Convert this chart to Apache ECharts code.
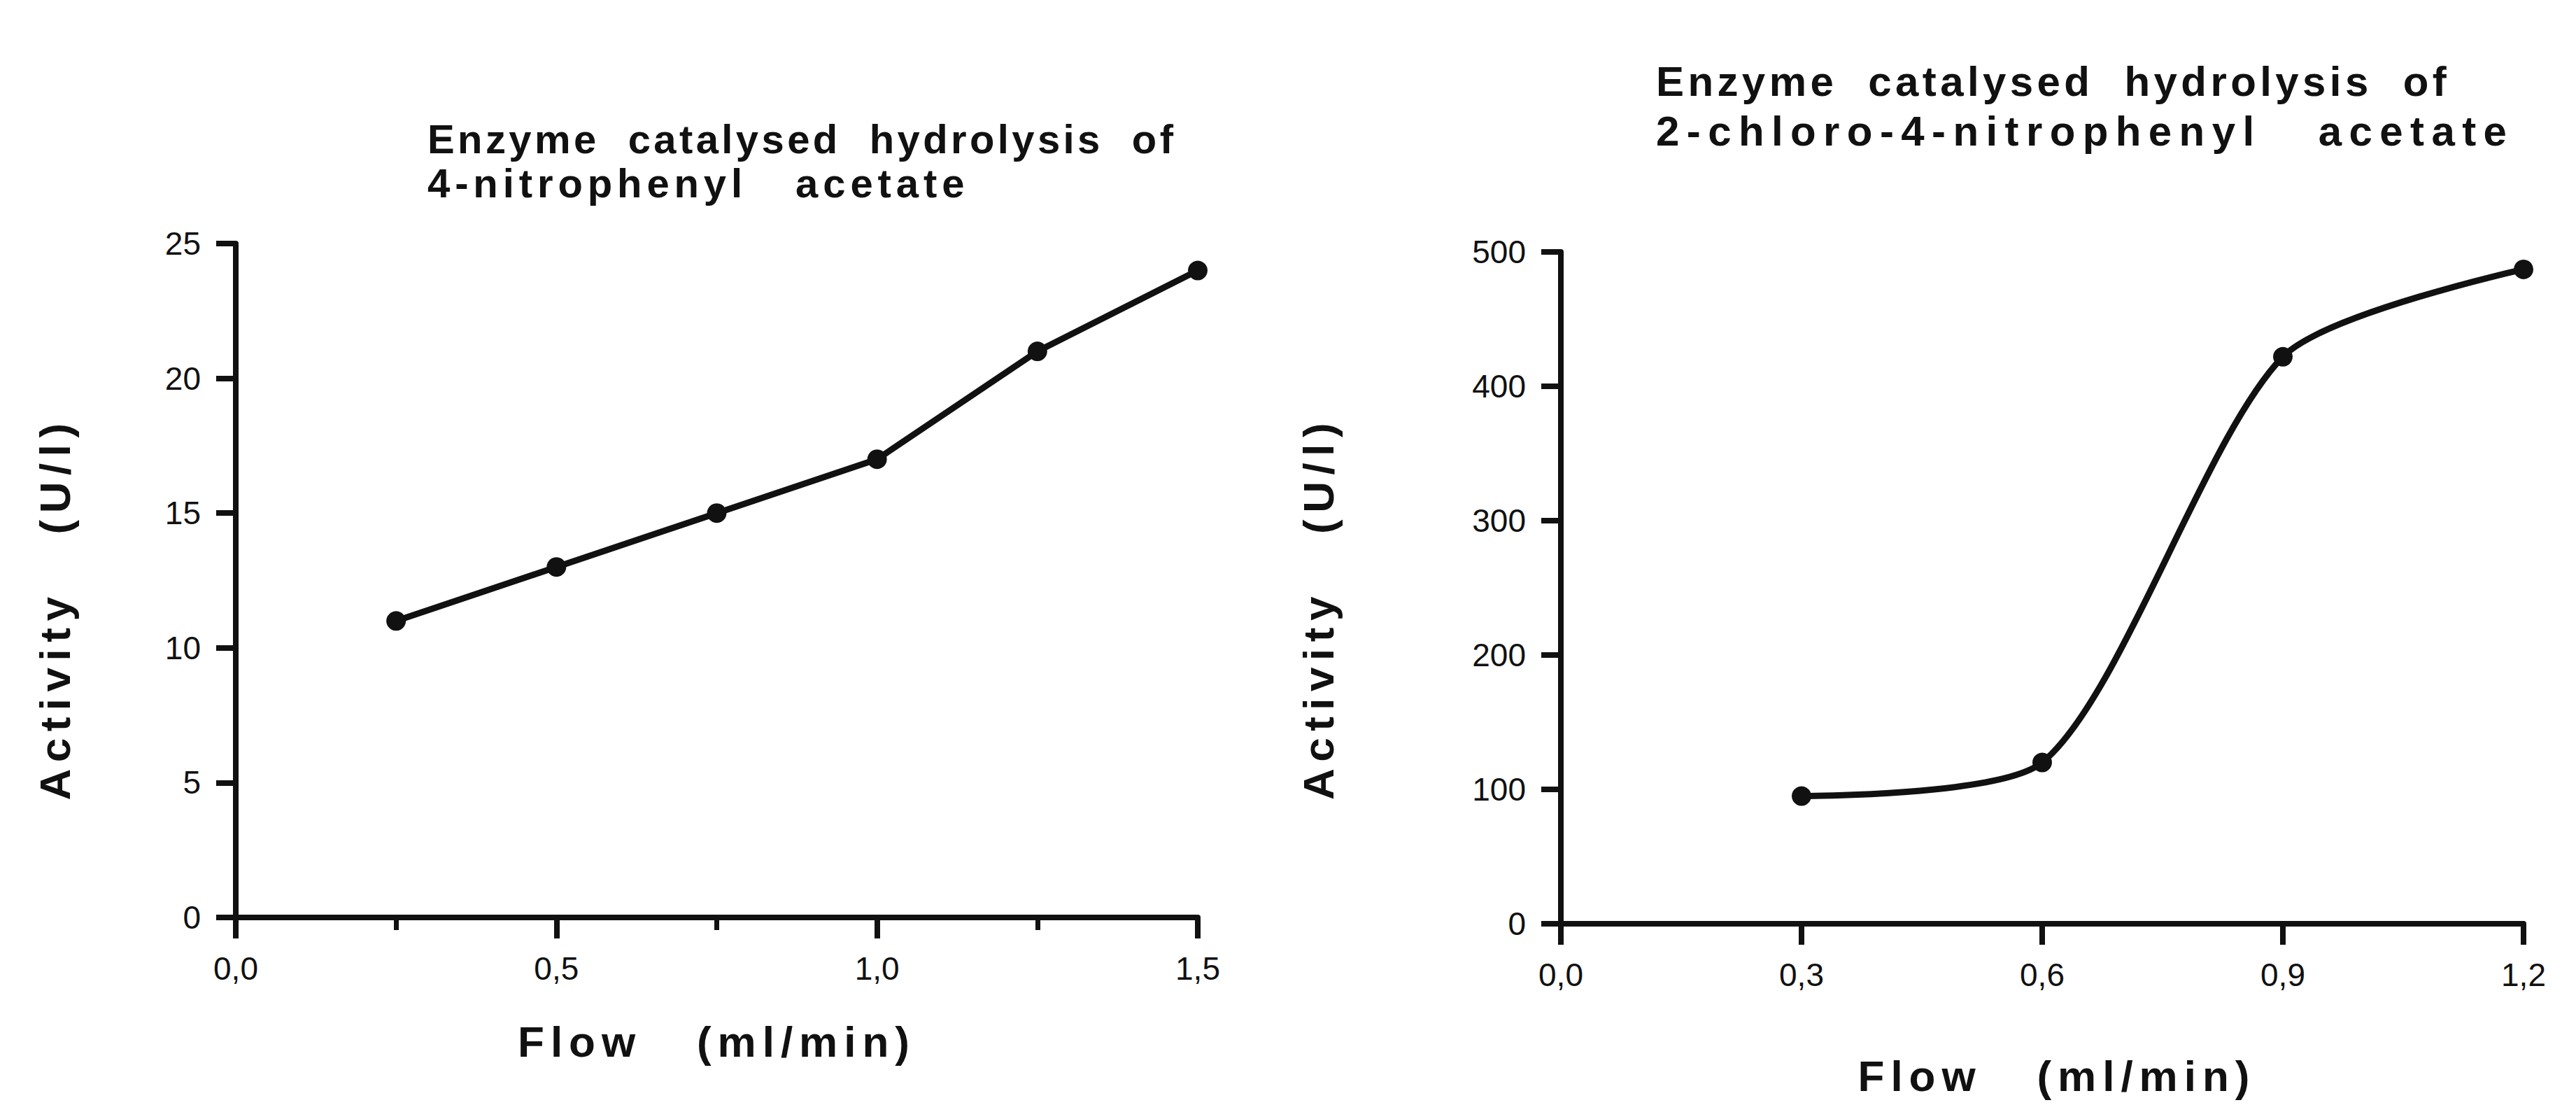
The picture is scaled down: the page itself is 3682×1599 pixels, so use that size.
<!DOCTYPE html>
<html>
<head>
<meta charset="utf-8">
<script src="https://cdn.jsdelivr.net/npm/echarts@6/dist/echarts.min.js"></script>
<style>
html,body{margin:0;padding:0;background:#fff;}
#main{width:3682px;height:1599px;}
</style>
</head>
<body>
<div id="main"></div>
<script>
// ---- data ----
const leftTitle = "Enzyme  catalysed  hydrolysis  of\n4-nitrophenyl   acetate";
const rightTitle = "Enzyme  catalysed  hydrolysis  of\n2-chloro-4-nitrophenyl   acetate";
const xAxisTitle = "Flow   (ml/min)";
const yAxisTitle = "Activity   (U/l)";
const leftFlow = [0.25, 0.5, 0.75, 1.0, 1.25, 1.5];
const leftActivity = [11, 13, 15, 17, 21, 24];
const rightFlow = [0.3, 0.6, 0.9, 1.2];
const rightActivity = [95, 120, 422, 487];
const leftXRange = [0, 1.5, 0.5];
const leftYRange = [0, 25, 5];
const rightXRange = [0, 1.2, 0.3];
const rightYRange = [0, 500, 100];

const FONT = "'Liberation Sans', Arial, sans-serif";
const INK = '#111';
const fmtComma = v => v.toFixed(1).replace('.', ',');

function pairs(xs, ys) { return xs.map((x, i) => [x, ys[i]]); }

function xAxis(gridIndex, range, minor, nameGap, padLeft) {
  return {
    type: 'value', gridIndex, min: range[0], max: range[1], interval: range[2],
    name: xAxisTitle, nameLocation: 'middle', nameGap,
    nameTextStyle: { fontFamily: FONT, fontWeight: 'bold', fontSize: 62, color: INK, padding: [0, 0, 0, padLeft] },
    axisLine: { show: true, onZero: false, lineStyle: { color: INK, width: 8 } },
    axisTick: { show: true, inside: false, length: 30, lineStyle: { color: INK, width: 8 } },
    minorTick: { show: minor, splitNumber: 2, length: 18, lineStyle: { color: INK, width: 7 } },
    splitLine: { show: false },
    axisLabel: { margin: 50, fontFamily: FONT, fontSize: 46, color: INK, formatter: fmtComma }
  };
}
function yAxis(gridIndex, range, nameGap, padRight) {
  return {
    type: 'value', gridIndex, min: range[0], max: range[1], interval: range[2],
    name: yAxisTitle, nameLocation: 'middle', nameGap, nameRotate: 90,
    nameTextStyle: { fontFamily: FONT, fontWeight: 'bold', fontSize: 62, color: INK, padding: [0, padRight, 0, 0] },
    axisLine: { show: true, onZero: false, lineStyle: { color: INK, width: 8 } },
    axisTick: { show: true, inside: false, length: 28, lineStyle: { color: INK, width: 8 } },
    splitLine: { show: false },
    axisLabel: { margin: 50, fontFamily: FONT, fontSize: 46, color: INK }
  };
}

const chart = echarts.init(document.getElementById('main'), null, { renderer: 'svg' });
chart.setOption({
  animation: false,
  backgroundColor: '#fff',
  title: [
    { text: leftTitle, left: 606, top: 162,
      textStyle: { fontFamily: FONT, fontWeight: 'bold', fontSize: 58, lineHeight: 63, color: INK } },
    { text: rightTitle, left: 2362, top: 76,
      textStyle: { fontFamily: FONT, fontWeight: 'bold', fontSize: 60, lineHeight: 71, color: INK } }
  ],
  grid: [
    { left: 337, right: 3682 - 1712, top: 348, bottom: 1599 - 1311, containLabel: false },
    { left: 2231, right: 3682 - 3607, top: 360, bottom: 1599 - 1320, containLabel: false }
  ],
  xAxis: [
    xAxis(0, leftXRange, true, 146, 0),
    xAxis(1, rightXRange, false, 186, 42)
  ],
  yAxis: [
    yAxis(0, leftYRange, 228, 80),
    yAxis(1, rightYRange, 316, 58)
  ],
  series: [
    { type: 'line', xAxisIndex: 0, yAxisIndex: 0, data: pairs(leftFlow, leftActivity),
      symbol: 'circle', symbolSize: 28, itemStyle: { color: INK },
      lineStyle: { color: INK, width: 9 } },
    { type: 'line', xAxisIndex: 1, yAxisIndex: 1, data: pairs(rightFlow, rightActivity),
      smooth: 0.25, symbol: 'circle', symbolSize: 28, itemStyle: { color: INK },
      lineStyle: { color: INK, width: 9 } }
  ]
});

function spaceText() {
  document.querySelectorAll('#main svg text').forEach(t => {
    const s = t.textContent;
    const isRight = t.getBoundingClientRect().left > 1800;
    let ls = null;
    if (/Enzyme/.test(s)) ls = isRight ? 5.4 : 4.4;
    else if (/chloro/.test(s)) ls = 10.4;
    else if (/nitrophenyl/.test(s)) ls = 6.9;
    else if (/Flow/.test(s)) ls = 9;
    else if (/Activity/.test(s)) ls = 9.5;
    if (ls !== null) t.setAttribute('letter-spacing', ls + 'px');
  });
}
chart.on('finished', spaceText);
spaceText();
setTimeout(spaceText, 50);
setTimeout(spaceText, 300);
</script>
</body>
</html>
